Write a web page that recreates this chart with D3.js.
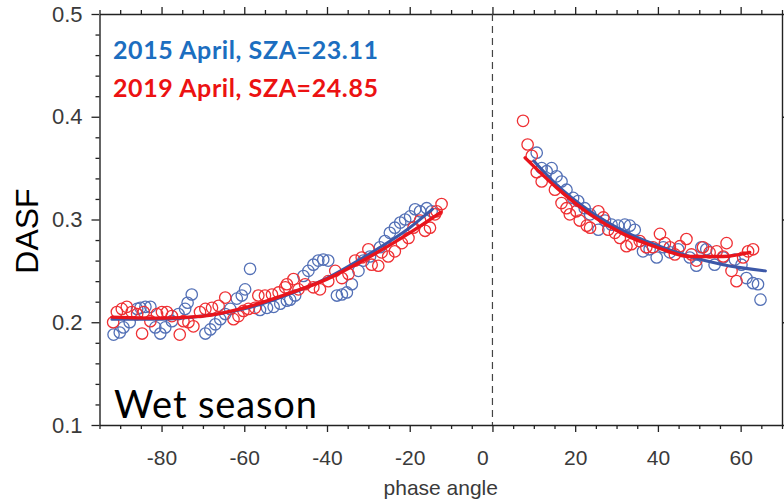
<!DOCTYPE html>
<html>
<head>
<meta charset="utf-8">
<script src="https://cdn.jsdelivr.net/npm/d3@7/dist/d3.min.js"></script>
<style>
  html, body { margin: 0; padding: 0; background: #fff; }
  svg { display: block; }
</style>
</head>
<body>
<svg id="chart" width="784" height="502"></svg>
<script>
// Phase-angle dependence of DASF, wet season (April) for two years.

// 2015 April observations: [phase angle, DASF]
const obs2015 = [
  [-91.6,0.188],[-90.1,0.190],[-89.2,0.195],[-87.7,0.200],[-85.9,0.213],[-85.1,0.214],
  [-83.9,0.215],[-82.7,0.215],[-81.5,0.195],[-80.3,0.189],[-79.1,0.195],[-77.5,0.201],
  [-75.9,0.208],[-74.3,0.213],[-73.7,0.219],[-72.7,0.227],[-69.4,0.189],[-68.2,0.193],
  [-67.0,0.198],[-65.8,0.203],[-64.6,0.208],[-63.4,0.213],[-61.8,0.223],[-60.6,0.226],
  [-59.8,0.232],[-58.6,0.252],[-56.2,0.212],[-54.5,0.214],[-52.9,0.215],[-51.3,0.218],
  [-49.7,0.221],[-48.9,0.222],[-47.7,0.226],[-45.7,0.245],[-44.5,0.250],[-43.3,0.256],
  [-42.1,0.260],[-40.9,0.261],[-39.7,0.260],[-37.6,0.226],[-36.4,0.227],[-35.2,0.229],
  [-34.0,0.237],[-32.4,0.250],[-31.2,0.260],[-29.6,0.264],[-27.2,0.273],[-26.0,0.279],
  [-24.8,0.287],[-23.6,0.292],[-22.3,0.297],[-21.1,0.300],[-19.9,0.303],[-18.7,0.310],
  [-17.5,0.308],[-15.9,0.311],[-14.7,0.308],
  [10.7,0.365],[11.9,0.350],[13.1,0.347],[14.3,0.350],[15.5,0.342],[16.7,0.337],
  [17.9,0.329],[19.5,0.321],[20.7,0.318],[22.3,0.311],[23.6,0.305],[25.6,0.290],
  [27.2,0.299],[28.8,0.295],[30.4,0.294],[32.0,0.295],[33.2,0.294],[34.4,0.290],
  [36.4,0.269],[38.0,0.271],[39.7,0.263],[41.3,0.273],[42.9,0.268],[44.9,0.271],
  [47.7,0.263],[49.3,0.255],[50.5,0.273],[51.7,0.271],[53.7,0.256],[55.8,0.263],
  [58.6,0.261],[60.2,0.256],[61.4,0.243],[63.0,0.238],[64.2,0.237],[64.8,0.222]
];

// 2019 April observations: [phase angle, DASF]
const obs2019 = [
  [-91.7,0.200],[-90.8,0.210],[-89.6,0.213],[-88.4,0.215],[-87.2,0.210],[-85.9,0.208],
  [-84.7,0.189],[-84.3,0.210],[-82.7,0.201],[-81.1,0.208],[-79.9,0.210],[-78.7,0.210],
  [-77.5,0.206],[-75.6,0.188],[-74.7,0.201],[-73.5,0.200],[-72.3,0.196],[-70.7,0.210],
  [-69.4,0.213],[-67.8,0.214],[-66.2,0.216],[-64.6,0.224],[-62.6,0.203],[-61.4,0.206],
  [-60.2,0.211],[-59.0,0.213],[-57.4,0.214],[-56.6,0.226],[-55.0,0.226],[-53.3,0.227],
  [-51.7,0.229],[-50.1,0.234],[-49.7,0.237],[-48.1,0.242],[-46.9,0.232],[-45.3,0.237],
  [-43.3,0.234],[-41.7,0.232],[-39.7,0.240],[-38.0,0.250],[-36.4,0.243],[-34.8,0.247],
  [-33.2,0.260],[-31.6,0.263],[-30.0,0.271],[-29.2,0.256],[-27.6,0.255],[-26.8,0.268],
  [-25.2,0.264],[-23.6,0.269],[-21.9,0.277],[-20.3,0.282],[-19.1,0.292],[-17.5,0.299],
  [-16.3,0.289],[-15.1,0.292],[-13.9,0.305],[-13.5,0.308],[-12.3,0.315],
  [7.4,0.396],[8.5,0.373],[9.5,0.362],[10.7,0.346],[11.9,0.337],[15.1,0.329],
  [16.7,0.316],[17.9,0.311],[18.7,0.305],[20.3,0.308],[21.1,0.299],[22.8,0.294],
  [23.6,0.292],[25.6,0.308],[26.8,0.302],[28.0,0.290],[29.6,0.287],[30.8,0.282],
  [32.4,0.274],[33.6,0.276],[35.6,0.279],[37.2,0.273],[38.8,0.273],[40.5,0.286],
  [41.7,0.277],[42.9,0.273],[44.1,0.266],[45.3,0.274],[46.9,0.281],[48.1,0.266],
  [49.3,0.260],[50.9,0.273],[52.5,0.268],[54.2,0.269],[55.8,0.264],[56.6,0.277],
  [57.8,0.250],[59.0,0.240],[60.6,0.263],[61.8,0.269],[63.0,0.271]
];

// Fitted curves (backscatter side and forward side), sampled along each curve
const fit2015Left  = [[-92,0.203],[-80,0.203],[-70,0.206],[-60,0.213],[-50,0.226],[-40,0.243],[-30,0.266],[-20,0.292],[-14.5,0.310]];
const fit2019Left  = [[-92,0.205],[-80,0.204],[-70,0.206],[-60,0.214],[-50,0.227],[-40,0.242],[-30,0.263],[-20,0.287],[-12.5,0.307]];
const fit2015Right = [[10,0.357],[15.5,0.334],[23.6,0.308],[31.6,0.289],[39.7,0.275],[47.7,0.264],[55.8,0.256],[66,0.250]];
const fit2019Right = [[7.9,0.360],[15.5,0.331],[23.6,0.305],[31.6,0.286],[39.7,0.273],[47.7,0.264],[55.8,0.264],[62.2,0.268]];

const xTicks = [-80, -60, -40, -20, 0, 20, 40, 60];
const yTicks = [0.1, 0.2, 0.3, 0.4, 0.5];
const legendLabels = ["2015 April, SZA=23.11", "2019 April, SZA=24.85"];
const panelLabel = "Wet season";

const blueMarker = "#5370b6", redMarker = "#ef3034";
const blueLine = "#3c58a8", redLine = "#e8141c";

const svg = d3.select("#chart");
const L = 99.5, R = 782, T = 14, B = 425;

const x = d3.scaleLinear().domain([-95, 70]).range([L, R]);
const y = d3.scaleLinear().domain([0.1, 0.5]).range([B, T]);

const tickFont = "'Liberation Sans', Arial, sans-serif";
const hyphenFmt = d => String(d).replace("\u2212", "-");

// minor ticks
const xMinor = d3.range(-95, 70.01, 5).filter(v => !xTicks.includes(v));
const yMinor = d3.range(0.12, 0.5, 0.02).map(v => +v.toFixed(2)).filter(v => !yTicks.some(t => Math.abs(t - v) < 1e-6));

function styleAxis(g) {
  g.selectAll("path.domain").attr("stroke", "#222").attr("stroke-width", 1.4);
  g.selectAll(".tick line").attr("stroke", "#222").attr("stroke-width", 1.3);
}

// bottom axis
const gxB = svg.append("g").attr("transform", `translate(0,${B})`)
  .call(d3.axisBottom(x).tickValues(xTicks).tickSizeInner(7).tickSizeOuter(0).tickPadding(18).tickFormat(hyphenFmt));
styleAxis(gxB);
gxB.selectAll(".tick text").attr("font-family", tickFont).attr("font-size", 21).attr("fill", "#3a3a3a")
  .attr("dx", d => d === 0 ? -10 : 0);
svg.append("g").attr("transform", `translate(0,${B})`)
  .call(d3.axisBottom(x).tickValues(xMinor).tickSize(4).tickFormat(""))
  .call(g => g.select("path.domain").remove()).call(styleAxis);

// top axis
const gxT = svg.append("g").attr("transform", `translate(0,${T})`)
  .call(d3.axisTop(x).tickValues(xTicks).tickSizeInner(7).tickSizeOuter(0).tickFormat(""));
styleAxis(gxT);
svg.append("g").attr("transform", `translate(0,${T})`)
  .call(d3.axisTop(x).tickValues(xMinor).tickSize(4).tickFormat(""))
  .call(g => g.select("path.domain").remove()).call(styleAxis);

// left axis
const gyL = svg.append("g").attr("transform", `translate(${L},0)`)
  .call(d3.axisLeft(y).tickValues(yTicks).tickSizeInner(8).tickSizeOuter(0).tickPadding(9).tickFormat(d3.format(".1f")));
styleAxis(gyL);
gyL.selectAll(".tick text").attr("font-family", tickFont).attr("font-size", 22).attr("fill", "#3a3a3a");
svg.append("g").attr("transform", `translate(${L},0)`)
  .call(d3.axisLeft(y).tickValues(yMinor).tickSize(4).tickFormat(""))
  .call(g => g.select("path.domain").remove()).call(styleAxis);

// right spine
const gyR = svg.append("g").attr("transform", `translate(${R},0)`)
  .call(d3.axisRight(y).tickValues(yTicks).tickSizeInner(7).tickSizeOuter(0).tickFormat(""));
styleAxis(gyR);

// zero phase divider
svg.append("line")
  .attr("x1", x(0)).attr("x2", x(0)).attr("y1", y(0.5)).attr("y2", y(0.1))
  .attr("stroke", "#444").attr("stroke-width", 1.2).attr("stroke-dasharray", "7,5");

// observations
const plot = svg.append("g");
function drawPoints(data, color) {
  plot.append("g").selectAll("circle").data(data).join("circle")
    .attr("cx", d => x(d[0])).attr("cy", d => y(d[1])).attr("r", 5.7)
    .attr("fill", "none").attr("stroke", color).attr("stroke-width", 1.3);
}
drawPoints(obs2015, blueMarker);
drawPoints(obs2019, redMarker);

// fitted curves
const line = d3.line().x(d => x(d[0])).y(d => y(d[1])).curve(d3.curveMonotoneX);
function drawFit(data, color, w) {
  plot.append("path").datum(data).attr("d", line)
    .attr("fill", "none").attr("stroke", color).attr("stroke-width", w).attr("stroke-linecap", "round");
}
drawFit(fit2015Left, blueLine, 3);
drawFit(fit2015Right, blueLine, 3);
drawFit(fit2019Left, redLine, 3.4);
drawFit(fit2019Right, redLine, 3.4);

// legend
const legendFont = "Lato, 'Open Sans', sans-serif";
svg.append("text").attr("x", 113).attr("y", 59).text(legendLabels[0])
  .attr("font-family", legendFont).attr("font-weight", 700).attr("font-size", 25)
  .attr("textLength", 265).attr("lengthAdjust", "spacing").attr("fill", "#1c6ec0");
svg.append("text").attr("x", 113).attr("y", 97).text(legendLabels[1])
  .attr("font-family", legendFont).attr("font-weight", 700).attr("font-size", 25)
  .attr("textLength", 265).attr("lengthAdjust", "spacing").attr("fill", "#ec1212");

// panel label
svg.append("text").attr("x", 114).attr("y", 418).text(panelLabel)
  .attr("font-family", legendFont).attr("font-size", 38)
  .attr("textLength", 203).attr("lengthAdjust", "spacing").attr("fill", "#000");

// axis titles
svg.append("text").attr("x", (L + R) / 2).attr("y", 495).attr("text-anchor", "middle")
  .text("phase angle").attr("font-family", tickFont).attr("font-size", 21).attr("fill", "#3a3a3a");
svg.append("text").attr("transform", `translate(38,231) rotate(-90)`).attr("text-anchor", "middle")
  .text("DASF").attr("font-family", tickFont).attr("font-size", 32).attr("fill", "#000");
</script>
</body>
</html>
